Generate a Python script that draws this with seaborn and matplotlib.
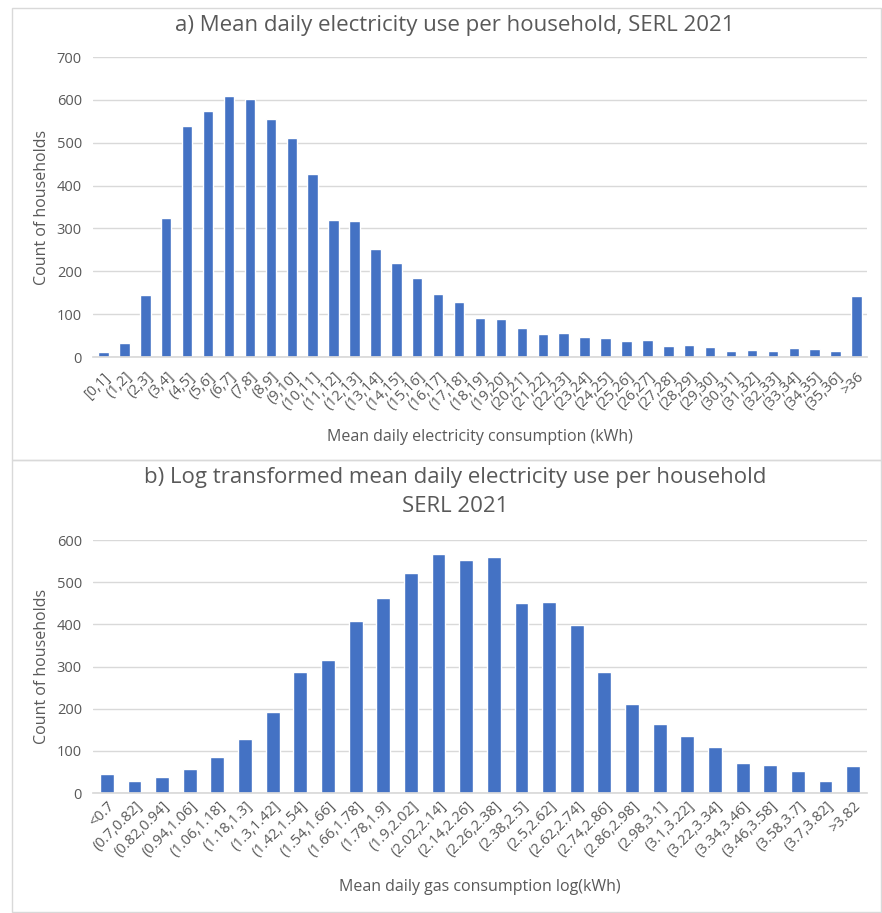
import matplotlib
matplotlib.use("Agg")
import matplotlib.pyplot as plt
from matplotlib.patches import Rectangle
import seaborn as sns
import pandas as pd

# Panel a: mean daily electricity use (kWh bins)
elec_bins = ["[0,1]"] + [f"({i},{i+1}]" for i in range(1, 36)] + [">36"]
elec_counts = [12, 33, 144, 324, 538, 574, 609, 602, 555, 510,
               426, 319, 317, 253, 219, 185, 147, 129, 92, 88,
               68, 53, 57, 46, 44, 38, 39, 26, 28, 23,
               14, 17, 13, 21, 18, 15, 143]

# Panel b: log-transformed mean daily use
log_bins = ["<0.7", "(0.7,0.82]", "(0.82,0.94]", "(0.94,1.06]", "(1.06,1.18]",
            "(1.18,1.3]", "(1.3,1.42]", "(1.42,1.54]", "(1.54,1.66]", "(1.66,1.78]",
            "(1.78,1.9]", "(1.9,2.02]", "(2.02,2.14]", "(2.14,2.26]", "(2.26,2.38]",
            "(2.38,2.5]", "(2.5,2.62]", "(2.62,2.74]", "(2.74,2.86]", "(2.86,2.98]",
            "(2.98,3.1]", "(3.1,3.22]", "(3.22,3.34]", "(3.34,3.46]", "(3.46,3.58]",
            "(3.58,3.7]", "(3.7,3.82]", ">3.82"]
log_counts = [45, 28, 39, 58, 86, 129, 191, 286, 316, 409,
              463, 522, 566, 553, 560, 450, 452, 399, 286, 212,
              164, 135, 108, 72, 67, 52, 29, 63]

title_a = "a) Mean daily electricity use per household, SERL 2021"
title_b = "b) Log transformed mean daily electricity use per household\nSERL 2021"
xlabel_a = "Mean daily electricity consumption (kWh)"
xlabel_b = "Mean daily gas consumption log(kWh)"
ylabel = "Count of households"

sns.set_theme(style="white")
plt.rcParams["font.family"] = ["Open Sans", "DejaVu Sans"]

BAR = "#4472C4"
TXT = "#595959"
GRID = "#d9d9d9"

W, H = 882, 913
fig = plt.figure(figsize=(W / 100, H / 100), dpi=100)
fig.patch.set_facecolor("white")

# panel frames
for (x0, y0, x1, y1) in [(12, 8, 881, 460), (12, 460, 881, 912)]:
    fig.patches.append(Rectangle((x0 / W, 1 - y1 / H), (x1 - x0) / W, (y1 - y0) / H,
                                 transform=fig.transFigure, fill=False,
                                 edgecolor=GRID, linewidth=1.0))


def panel(rect_px, cats, vals, ymax, ystep, xlabel, xlab_y_px, xpad):
    left, top, right, bottom = rect_px
    ax = fig.add_axes([left / W, 1 - bottom / H, (right - left) / W, (bottom - top) / H])
    df = pd.DataFrame({"bin": cats, "count": vals})
    sns.barplot(data=df, x="bin", y="count", ax=ax, color=BAR, saturation=1,
                width=0.5, order=cats)
    ax.set_ylim(0, ymax)
    ax.set_xlim(-0.5, len(cats) - 0.5)
    ax.set_yticks(range(0, ymax + 1, ystep))
    ax.yaxis.grid(True, color=GRID, linewidth=1.0)
    ax.set_axisbelow(True)
    for s in ["top", "right", "left"]:
        ax.spines[s].set_visible(False)
    ax.spines["bottom"].set_color(GRID)
    ax.tick_params(axis="both", length=0, colors=TXT)
    ax.tick_params(axis="y", labelsize=10.5, pad=8)
    ax.tick_params(axis="x", labelsize=10.5, pad=xpad)
    for lab in ax.get_xticklabels():
        lab.set_rotation(45)
        lab.set_ha("right")
        lab.set_rotation_mode("anchor")
    ax.set_xlabel(xlabel, color=TXT, fontsize=11.5)
    ax.set_ylabel(ylabel, color=TXT, fontsize=11.5)
    h = bottom - top
    w = right - left
    ax.xaxis.set_label_coords(0.5, (bottom - xlab_y_px) / h)
    ax.yaxis.set_label_coords((42 - left) / w, 0.5)
    ax.xaxis.label.set_va("center")
    ax.yaxis.label.set_va("center")
    return ax


ax1 = panel((93, 57, 867, 357), elec_bins, elec_counts, 700, 100, xlabel_a, 437, 9)
ax2 = panel((93, 540, 867, 793), log_bins, log_counts, 600, 100, xlabel_b, 887, 4)

fig.text(455 / W, 1 - 26 / H, title_a, ha="center", va="center", color=TXT, fontsize=16)
fig.text(455 / W, 1 - 492 / H, title_b, ha="center", va="center", color=TXT,
         fontsize=16, linespacing=1.45)

fig.savefig("out.png", dpi=100, facecolor="white")
